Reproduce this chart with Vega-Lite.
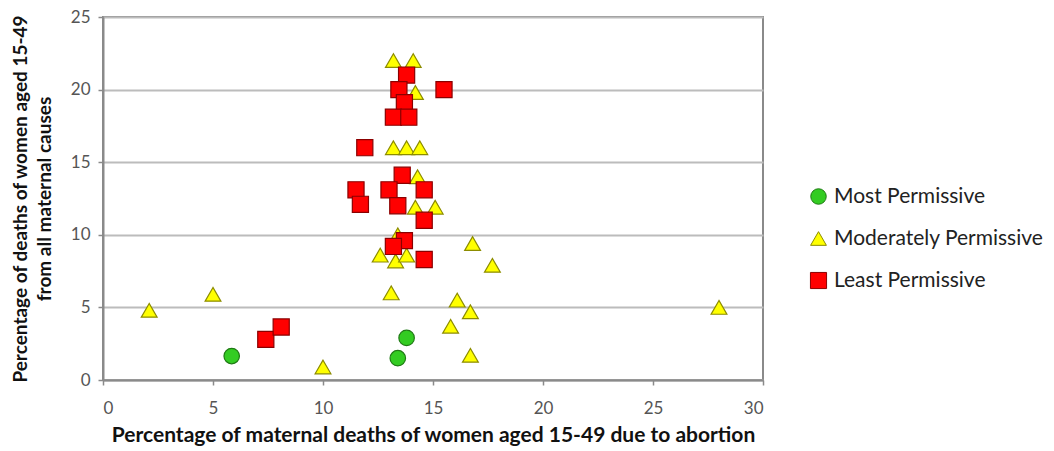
{
  "$schema": "https://vega.github.io/schema/vega-lite/v6.json",
  "width": 660,
  "height": 363,
  "autosize": {"type": "none"},
  "padding": {"left": 103, "top": 17, "right": 291, "bottom": 71},
  "background": "white",
  "config": {
    "view": {"stroke": "#8a8a8a", "strokeWidth": 2},
    "font": "Lato"
  },
  "data": {
    "values": [
      {"x": 2.1, "y": 4.8, "group": "Moderately Permissive"},
      {"x": 5.0, "y": 5.9, "group": "Moderately Permissive"},
      {"x": 10.0, "y": 0.9, "group": "Moderately Permissive"},
      {"x": 13.1, "y": 6.0, "group": "Moderately Permissive"},
      {"x": 16.8, "y": 9.4, "group": "Moderately Permissive"},
      {"x": 17.7, "y": 7.9, "group": "Moderately Permissive"},
      {"x": 16.1, "y": 5.5, "group": "Moderately Permissive"},
      {"x": 16.7, "y": 4.7, "group": "Moderately Permissive"},
      {"x": 15.8, "y": 3.7, "group": "Moderately Permissive"},
      {"x": 16.7, "y": 1.7, "group": "Moderately Permissive"},
      {"x": 28.0, "y": 5.0, "group": "Moderately Permissive"},
      {"x": 12.6, "y": 8.6, "group": "Moderately Permissive"},
      {"x": 13.3, "y": 8.2, "group": "Moderately Permissive"},
      {"x": 13.8, "y": 8.6, "group": "Moderately Permissive"},
      {"x": 13.4, "y": 10.0, "group": "Moderately Permissive"},
      {"x": 13.2, "y": 22.0, "group": "Moderately Permissive"},
      {"x": 14.1, "y": 22.0, "group": "Moderately Permissive"},
      {"x": 14.2, "y": 19.8, "group": "Moderately Permissive"},
      {"x": 13.2, "y": 16.0, "group": "Moderately Permissive"},
      {"x": 13.8, "y": 16.0, "group": "Moderately Permissive"},
      {"x": 14.4, "y": 16.0, "group": "Moderately Permissive"},
      {"x": 14.3, "y": 14.0, "group": "Moderately Permissive"},
      {"x": 14.2, "y": 11.9, "group": "Moderately Permissive"},
      {"x": 15.1, "y": 11.9, "group": "Moderately Permissive"},
      {"x": 7.4, "y": 2.8, "group": "Least Permissive"},
      {"x": 8.1, "y": 3.65, "group": "Least Permissive"},
      {"x": 13.8, "y": 21.0, "group": "Least Permissive"},
      {"x": 13.45, "y": 20.0, "group": "Least Permissive"},
      {"x": 15.5, "y": 20.0, "group": "Least Permissive"},
      {"x": 13.7, "y": 19.1, "group": "Least Permissive"},
      {"x": 13.2, "y": 18.1, "group": "Least Permissive"},
      {"x": 13.9, "y": 18.1, "group": "Least Permissive"},
      {"x": 11.9, "y": 16.0, "group": "Least Permissive"},
      {"x": 13.6, "y": 14.1, "group": "Least Permissive"},
      {"x": 11.5, "y": 13.1, "group": "Least Permissive"},
      {"x": 13.0, "y": 13.1, "group": "Least Permissive"},
      {"x": 14.6, "y": 13.1, "group": "Least Permissive"},
      {"x": 11.7, "y": 12.1, "group": "Least Permissive"},
      {"x": 13.4, "y": 12.0, "group": "Least Permissive"},
      {"x": 14.6, "y": 11.0, "group": "Least Permissive"},
      {"x": 13.7, "y": 9.6, "group": "Least Permissive"},
      {"x": 13.2, "y": 9.2, "group": "Least Permissive"},
      {"x": 14.6, "y": 8.3, "group": "Least Permissive"},
      {"x": 5.85, "y": 1.65, "group": "Most Permissive"},
      {"x": 13.8, "y": 2.9, "group": "Most Permissive"},
      {"x": 13.4, "y": 1.5, "group": "Most Permissive"}
    ]
  },
  "mark": {"type": "point", "filled": true, "opacity": 1, "strokeWidth": 1.2},
  "encoding": {
    "x": {
      "field": "x", "type": "quantitative",
      "scale": {"domain": [0, 30], "nice": false},
      "axis": {
        "values": [0, 5, 10, 15, 20, 25, 30],
        "grid": false,
        "domainColor": "#8a8a8a", "domainWidth": 2,
        "tickColor": "#8a8a8a", "tickWidth": 1.5, "tickSize": 5,
        "labelFontSize": 17, "labelColor": "#555555", "labelPadding": 15,
        "title": "Percentage of maternal deaths of women aged 15-49 due to abortion",
        "titleFontSize": 21, "titleFontWeight": "bold", "titleColor": "#111111",
        "titlePadding": 8
      }
    },
    "y": {
      "field": "y", "type": "quantitative",
      "scale": {"domain": [0, 25], "nice": false},
      "axis": {
        "values": [0, 5, 10, 15, 20, 25],
        "grid": true, "gridColor": "#bcbcbc", "gridWidth": 2,
        "domainColor": "#8a8a8a", "domainWidth": 2,
        "tickColor": "#8a8a8a", "tickWidth": 1.5, "tickSize": 5,
        "labelFontSize": 17, "labelColor": "#555555", "labelPadding": 8,
        "title": ["Percentage of deaths of women aged 15-49", "from all maternal causes"],
        "titleFontSize": 19, "titleFontWeight": "bold", "titleColor": "#111111",
        "titleLineHeight": 24,
        "titlePadding": 16
      }
    },
    "shape": {
      "field": "group", "type": "nominal",
      "scale": {
        "domain": ["Most Permissive", "Moderately Permissive", "Least Permissive"],
        "range": ["circle", "triangle-up", "square"]
      },
      "legend": null
    },
    "color": {
      "field": "group", "type": "nominal",
      "scale": {
        "domain": ["Most Permissive", "Moderately Permissive", "Least Permissive"],
        "range": ["#33cc22", "#ffff00", "#ff0000"]
      },
      "legend": {
        "title": null,
        "orient": "none",
        "legendX": 705,
        "legendY": 169,
        "labelFontSize": 21,
        "labelColor": "#222222",
        "labelLimit": 300,
        "rowPadding": 20,
        "symbolSize": 160,
        "labelOffset": 5,
        "symbolStrokeWidth": 1
      }
    },
    "stroke": {
      "field": "group", "type": "nominal",
      "scale": {
        "domain": ["Most Permissive", "Moderately Permissive", "Least Permissive"],
        "range": ["#1f7a14", "#8c8c00", "#8b0000"]
      },
      "legend": null
    },
    "size": {
      "field": "group", "type": "nominal",
      "scale": {
        "domain": ["Most Permissive", "Moderately Permissive", "Least Permissive"],
        "range": [240, 260, 380]
      },
      "legend": null
    },
    "order": {"field": "group", "sort": "descending"}
  }
}
